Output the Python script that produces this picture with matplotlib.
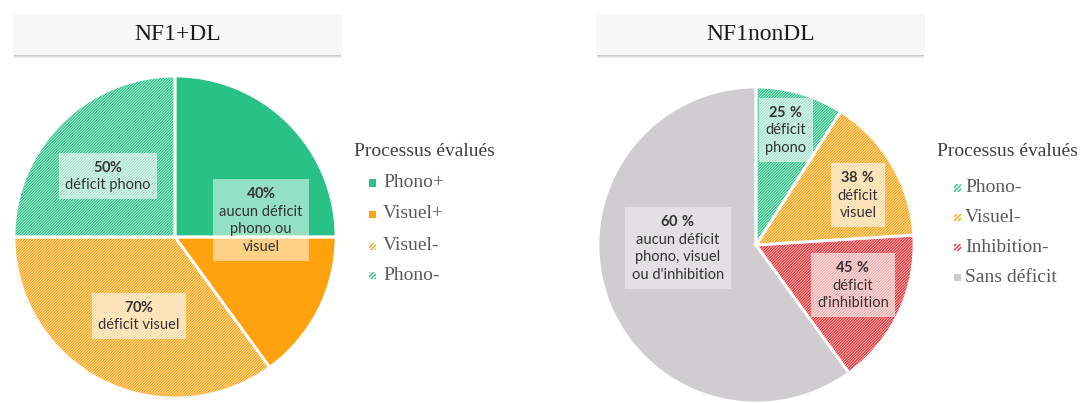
import matplotlib
matplotlib.use("Agg")

import matplotlib.pyplot as plt
from matplotlib.patches import Rectangle

# --- data ---
left_title = 'NF1+DL'
left_labels = ['Phono+', 'Visuel+', 'Visuel-', 'Phono-']
left_values = [25, 15, 35, 25]
left_colors = ['#29C286', '#FFA20E', '#FFA20E', '#29C286']
left_hatched = [False, False, True, True]
left_notes = ['50%\ndéficit phono', '40%\naucun déficit\nphono ou\nvisuel',
              '70%\ndéficit visuel']

right_title = 'NF1nonDL'
right_labels = ['Phono-', 'Visuel-', 'Inhibition-', 'Sans déficit']
right_values = [9, 15, 16, 60]
right_colors = ['#29C286', '#FFA20E', '#EB3236', '#CFCDCF']
right_hatched = [True, True, True, False]
right_notes = ['25 %\ndéficit\nphono', '38 %\ndéficit\nvisuel',
               '45 %\ndéficit\nd\'inhibition',
               '60 %\naucun déficit\nphono, visuel\nou d\'inhibition']

legend_title = 'Processus évalués'

W, H = 1082, 403
plt.rcParams['hatch.linewidth'] = 1.0
plt.rcParams['mathtext.fontset'] = 'custom'
plt.rcParams['mathtext.bf'] = 'Lato:bold'
plt.rcParams['mathtext.rm'] = 'Lato'

fig = plt.figure(figsize=(W / 100, H / 100), dpi=100)
HATCH = '////////////'


def fx(x):
  return x / W


def fy(y):
  return 1 - y / H


def title_box(x0, x1, y0, y1, text):
  # soft shadow under the box
  for i, a in enumerate([0.10, 0.07, 0.04, 0.02]):
    fig.add_artist(Rectangle((fx(x0 + 1), fy(y1 + 1 + i)), fx(x1 - x0 - 2),
                             (y1 - y0) / H, transform=fig.transFigure,
                             facecolor='black', alpha=a, edgecolor='none'))
  fig.add_artist(Rectangle((fx(x0), fy(y1)), fx(x1 - x0), (y1 - y0) / H,
                           transform=fig.transFigure, facecolor='#F7F7F7',
                           edgecolor='none'))
  fig.text(fx((x0 + x1) / 2), fy((y0 + y1) / 2), text, ha='center',
           va='center', fontsize=17, family='Liberation Serif',
           color='#1A1A1A')


def bold_first(note):
  lines = note.split('\n')
  head = lines[0].replace('%', r'\%').replace(' ', r'\ ')
  return '\n'.join(['$\\mathbf{%s}$' % head] + lines[1:])


def draw_pie(cx, cy, r, values, colors, hatched, notes, note_pos, box_alpha):
  ax = fig.add_axes([fx(cx - r), fy(cy + r), 2 * r / W, 2 * r / H])
  wedges, _ = ax.pie(values, colors=colors, startangle=90,
                     counterclock=False, radius=1,
                     wedgeprops=dict(linewidth=0))
  for w, c, h in zip(wedges, colors, hatched):
    if h:
      w.set_facecolor('white')
      w.set_edgecolor(c)
      w.set_hatch(HATCH)
      w.set_linewidth(0)
  ax.pie(values, startangle=90, counterclock=False, radius=1,
         wedgeprops=dict(facecolor='none', edgecolor='white', linewidth=2))
  ax.set_xlim(-1, 1)
  ax.set_ylim(-1, 1)
  ax.set_aspect('equal')
  ax.axis('off')
  for note, (px, py), a in zip(notes, note_pos, box_alpha):
    ax.text((px - cx) / r, (cy - py) / r, bold_first(note), ha='center',
            va='center', fontsize=10.5, family='Lato', color='#333333',
            linespacing=1.35,
            bbox=dict(boxstyle='square,pad=0.45', facecolor='white',
                      edgecolor='none', alpha=a))
  return ax


def draw_legend(x_title, y_title, x_mark, x_text, rows, labels, colors,
                hatched):
  fig.text(fx(x_title), fy(y_title), legend_title, ha='left', va='center',
           fontsize=14, family='Liberation Serif', color='#404040')
  for y, lab, c, h in zip(rows, labels, colors, hatched):
    s = 7
    if h:
      p = Rectangle((fx(x_mark - s / 2), fy(y + s / 2)), s / W, s / H,
                    transform=fig.transFigure, facecolor='white',
                    edgecolor=c, linewidth=0, hatch='////////')
    else:
      p = Rectangle((fx(x_mark - s / 2), fy(y + s / 2)), s / W, s / H,
                    transform=fig.transFigure, facecolor=c,
                    edgecolor='none')
    fig.add_artist(p)
    fig.text(fx(x_text), fy(y), lab, ha='left', va='center', fontsize=14,
             family='Liberation Serif', color='#595959')


title_box(13, 342, 14, 55, left_title)
title_box(596, 925, 14, 55, right_title)

draw_pie(175, 237, 161, left_values, left_colors, left_hatched, left_notes,
         [(108, 176), (261, 220), (139, 316)], [0.6, 0.5, 0.6])
draw_pie(756, 245, 158, right_values, right_colors, right_hatched,
         right_notes, [(786, 130), (858, 195), (853, 285), (678, 248)],
         [0.6, 0.6, 0.6, 0.4])

draw_legend(354, 151, 372, 383, [183, 214, 246, 275], left_labels,
            left_colors, left_hatched)
draw_legend(937, 152, 957, 965, [188, 217, 247, 277], right_labels,
            right_colors, right_hatched)

fig.savefig('out.png', dpi=100, facecolor='white')
plt.close(fig)
